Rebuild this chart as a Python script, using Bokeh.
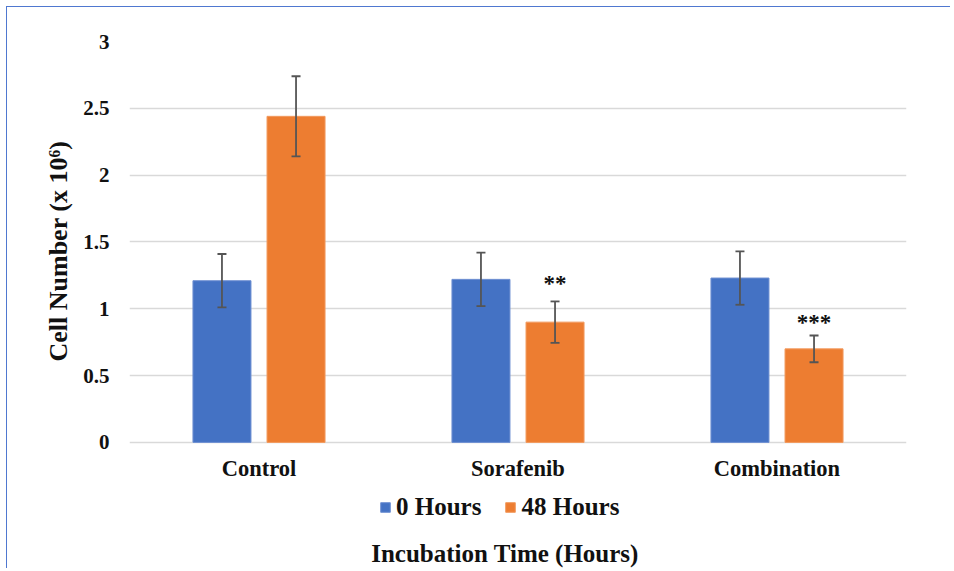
from bokeh.plotting import figure
from bokeh.models import ColumnDataSource, Range1d, FixedTicker, Whisker, TeeHead, Legend, LegendItem, Title, Label
from bokeh.transform import dodge
from bokeh.core.properties import value
from bokeh.embed import file_html
from bokeh.resources import INLINE

# ---- data ----
categories = ["Control", "Sorafenib", "Combination"]
cat_pos = [0.5, 1.5, 2.5]
series = ["0 Hours", "48 Hours"]
hours0 = [1.21, 1.22, 1.23]
hours0_err = [0.20, 0.20, 0.20]
hours48 = [2.44, 0.90, 0.70]
hours48_err = [0.30, 0.155, 0.10]
star_text = ["", "**", "***"]
star_y = [0.0, 1.20, 0.905]
y_ticks = [0, 0.5, 1, 1.5, 2, 2.5, 3]

BLUE = "#4472C4"
ORANGE = "#ED7D31"
FONT = "Liberation Serif"
TXT = "#111111"

src = ColumnDataSource(dict(
    x=cat_pos, cat=categories,
    h0=hours0, h0_up=[v + e for v, e in zip(hours0, hours0_err)], h0_lo=[v - e for v, e in zip(hours0, hours0_err)],
    h48=hours48, h48_up=[v + e for v, e in zip(hours48, hours48_err)], h48_lo=[v - e for v, e in zip(hours48, hours48_err)],
    stars=star_text, star_y=star_y,
))

# frame extends down to the canvas bottom so legend and axis title are drawn inside it
p = figure(width=944, height=562, output_backend="svg", toolbar_location=None,
           x_range=Range1d(0, 3), y_range=Range1d(-0.951, 3),
           min_border_left=122, min_border_right=45, min_border_top=34, min_border_bottom=0)
p.styles = {"border-top": "1.5px solid #4f78d0", "border-left": "1.5px solid #4f78d0",
            "margin-top": "6px", "margin-left": "6px"}
p.outline_line_color = None
p.background_fill_color = "white"

OFF = 0.143
W = 0.224
r0 = p.vbar(x=dodge("x", -OFF), top="h0", width=W, source=src, fill_color=BLUE, line_color="#6f90d2",
            line_width=1)
r1 = p.vbar(x=dodge("x", OFF), top="h48", width=W, source=src, fill_color=ORANGE, line_color="#f29a5e",
            line_width=1)

for base_off, up, lo in [(-OFF, "h0_up", "h0_lo"), (OFF, "h48_up", "h48_lo")]:
    wk = Whisker(source=src, base=dodge("x", base_off), upper=up, lower=lo,
                 line_color="#555555", line_width=1.8, level="overlay",
                 upper_head=TeeHead(size=9, line_color="#555555", line_width=1.8),
                 lower_head=TeeHead(size=9, line_color="#555555", line_width=1.8))
    p.add_layout(wk)

p.text(x=dodge("x", OFF), y="star_y", text="stars", source=src, text_align="center",
       text_baseline="middle", text_font=value(FONT), text_font_style="bold",
       text_font_size="23px", text_color=TXT, y_offset=1)

# axes
p.xgrid.grid_line_color = None
p.ygrid.grid_line_color = "#d9d9d9"
p.ygrid.grid_line_width = 1.5
p.yaxis.ticker = FixedTicker(ticks=y_ticks)
p.xaxis.ticker = FixedTicker(ticks=cat_pos)
p.xaxis.major_label_overrides = {c: n for c, n in zip(cat_pos, categories)}
p.xaxis.fixed_location = 0
for ax in (p.xaxis, p.yaxis):
    ax.axis_line_color = None
    ax.major_tick_line_color = None
    ax.minor_tick_line_color = None
    ax.major_tick_out = 0
    ax.major_tick_in = 0
    ax.major_label_text_font = FONT
    ax.major_label_text_font_style = "bold"
    ax.major_label_text_color = TXT
p.yaxis.major_label_text_font_size = "21px"
p.xaxis.major_label_text_font_size = "22.5px"
p.yaxis.major_label_standoff = 20
p.xaxis.major_label_standoff = 14

p.add_layout(Title(text="Cell Number (x 10\u2076)", align="left", offset=208, standoff=16,
                   text_font=FONT, text_font_style="bold", text_font_size="26px",
                   text_color=TXT), "left")

lg = Legend(items=[LegendItem(label=series[0], renderers=[r0]),
                   LegendItem(label=series[1], renderers=[r1])],
            orientation="horizontal", location=(250, 48),
            border_line_color=None, background_fill_alpha=0,
            padding=0, margin=0, spacing=23, label_standoff=5,
            glyph_width=12, glyph_height=12,
            label_text_font=FONT, label_text_font_style="bold",
            label_text_font_size="25px", label_text_color=TXT, label_height=25)
p.add_layout(lg)

p.add_layout(Label(x=1.45, y=-0.835, text="Incubation Time (Hours)", text_align="center",
                   text_baseline="middle", text_font=FONT, text_font_style="bold",
                   text_font_size="25px", text_color=TXT))

open("out.html", "w").write(file_html(p, INLINE))
